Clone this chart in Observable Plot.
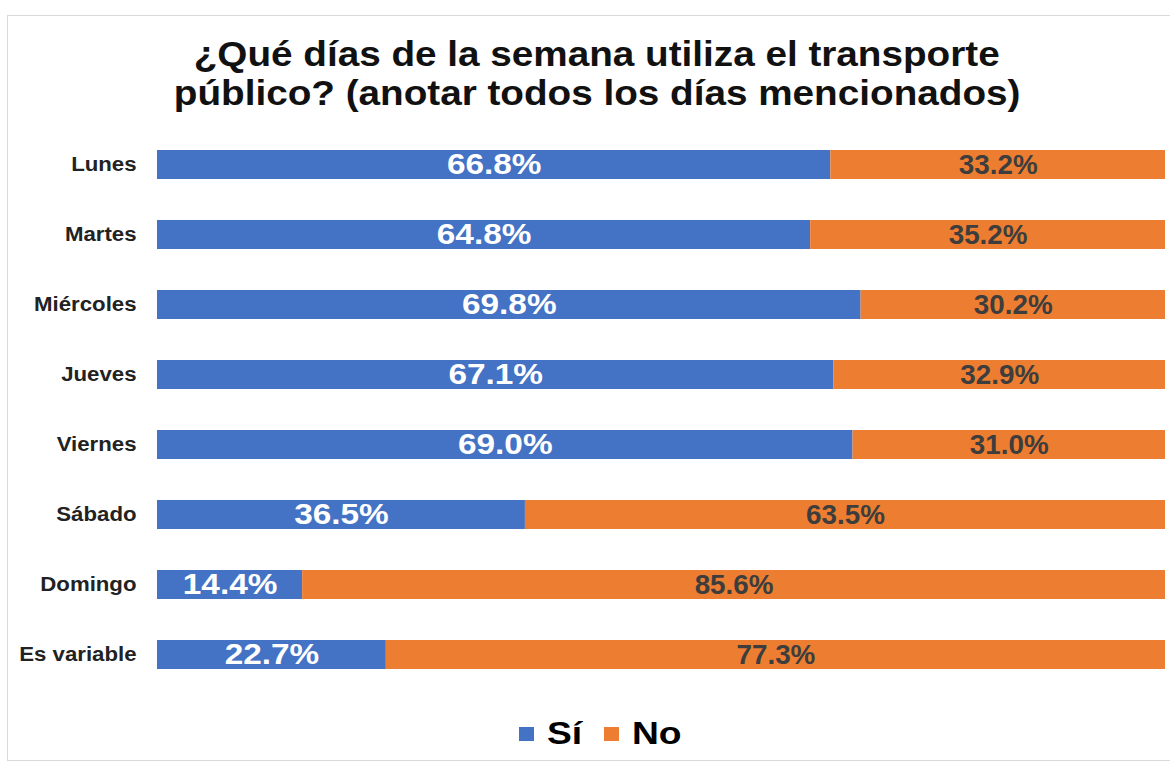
<!DOCTYPE html>
<html>
<head>
<meta charset="utf-8">
<script src="https://cdn.jsdelivr.net/npm/d3@7"></script>
<script src="https://cdn.jsdelivr.net/npm/@observablehq/plot@0.6"></script>
<style>
  html, body { margin: 0; padding: 0; background: #fff; }
  body { width: 1170px; height: 767px; position: relative; overflow: hidden; font-family: "Liberation Sans", Arial, sans-serif; }
  #frame { position: absolute; left: 7px; top: 15px; width: 1170px; height: 746px; border: 1px solid #d9d9d9; box-sizing: border-box; }
  #title { position: absolute; left: 12px; top: 34px; width: 1170px; text-align: center; font-weight: bold; font-size: 35px; line-height: 39px; color: #111; }
  #title span { display: inline-block; transform: scaleX(1.105); transform-origin: center; white-space: nowrap; }
  #chart { position: absolute; left: 0; top: 120px; }
  #legend { position: absolute; left: 15px; top: 716px; width: 1170px; display: flex; justify-content: center; align-items: center; font-weight: bold; font-size: 31px; color: #000; }
  #legend .sw { display: inline-block; width: 15px; height: 14px; margin-right: 13px; }
  #legend .item { display: flex; align-items: center; margin: 0 10px; }
  #legend .lab { display: inline-block; transform: scaleX(1.2); transform-origin: left center; margin-right: 8px; }
</style>
</head>
<body>
<div id="frame"></div>
<div id="title"><span>¿Qué días de la semana utiliza el transporte</span><br><span>público? (anotar todos los días mencionados)</span></div>
<div id="chart"></div>
<div id="legend"></div>
<script>
const days = ["Lunes", "Martes", "Miércoles", "Jueves", "Viernes", "Sábado", "Domingo", "Es variable"];
const si = [66.8, 64.8, 69.8, 67.1, 69.0, 36.5, 14.4, 22.7];
const no = [33.2, 35.2, 30.2, 32.9, 31.0, 63.5, 85.6, 77.3];
const responses = ["Sí", "No"];
const colors = ["#4472C4", "#ED7D31"];

const rows = [];
days.forEach((d, i) => {
  rows.push({day: d, resp: "Sí", value: si[i], x1: 0, x2: si[i]});
  rows.push({day: d, resp: "No", value: no[i], x1: si[i], x2: si[i] + no[i]});
});
const fmt = v => v.toFixed(1) + "%";

const chart = Plot.plot({
  width: 1170,
  height: 580,
  marginLeft: 157,
  marginRight: 5,
  marginTop: 6.65,
  marginBottom: 7.75,
  x: {domain: [0, 100], axis: null},
  y: {domain: days, paddingInner: 0.59, paddingOuter: 0.295, label: null, axis: null},
  color: {domain: responses, range: colors},
  style: {fontFamily: "Liberation Sans, Arial, sans-serif", background: "transparent"},
  marks: [
    Plot.barX(rows, {x1: "x1", x2: "x2", y: "day", fill: "resp"}),
    Plot.textX(rows.filter(d => d.resp === "Sí"), {
      x: d => (d.x1 + d.x2) / 2, y: "day", text: d => fmt(d.value),
      fill: "white", fontSize: 29, fontWeight: "bold", dy: 0
    }),
    Plot.textX(rows.filter(d => d.resp === "No"), {
      x: d => (d.x1 + d.x2) / 2, y: "day", text: d => fmt(d.value),
      fill: "#3d3d3d", fontSize: 27, fontWeight: "bold", dy: 0
    }),
    Plot.axisY({tickSize: 0, tickPadding: 21, fontSize: 20, fontWeight: "bold", fill: "#222", label: null})
  ]
});
document.getElementById("chart").appendChild(chart);

// the reference picture is slightly stretched horizontally: widen glyphs to match
function stretch(nodes, k) {
  nodes.forEach(t => {
    const len = t.getComputedTextLength();
    t.setAttribute("textLength", (len * k).toFixed(2));
    t.setAttribute("lengthAdjust", "spacingAndGlyphs");
  });
}
const textGroups = chart.querySelectorAll("g[aria-label='text']");
if (textGroups[0]) stretch(textGroups[0].querySelectorAll("text"), 1.15);
if (textGroups[1]) stretch(textGroups[1].querySelectorAll("text"), 1.03);
stretch(chart.querySelectorAll("g[aria-label='y-axis tick label'] text"), 1.11);

const legend = document.getElementById("legend");
responses.forEach((r, i) => {
  const item = document.createElement("span");
  item.className = "item";
  const sw = document.createElement("span");
  sw.className = "sw";
  sw.style.background = colors[i];
  const lab = document.createElement("span");
  lab.className = "lab";
  lab.textContent = r;
  item.appendChild(sw);
  item.appendChild(lab);
  legend.appendChild(item);
});
</script>
</body>
</html>
